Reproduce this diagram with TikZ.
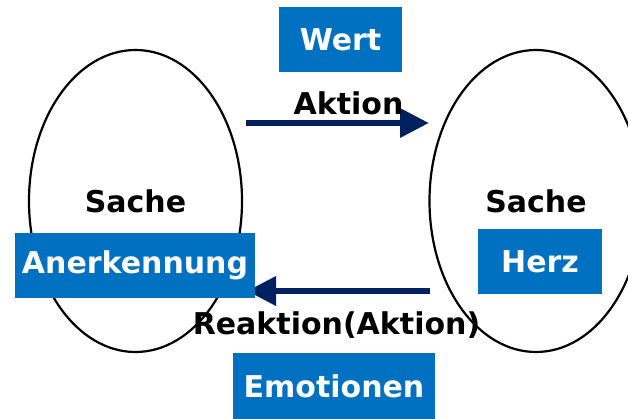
\documentclass[tikz,border=0pt]{standalone}
\usepackage{fontspec}
\setmainfont{DejaVu Sans}
\usetikzlibrary{shapes.geometric,arrows.meta}
\definecolor{kastenblau}{HTML}{0070C0}
\definecolor{pfeilblau}{HTML}{002060}

\begin{document}
\begin{tikzpicture}[x=1pt,y=-1pt,
        every node/.style={font=\fontsize{30}{36}\selectfont\bfseries},
        sache/.style={ellipse, draw, line width=2.2pt, minimum width=213pt, minimum height=302pt, inner sep=0pt},
        kasten/.style={fill=kastenblau, text=white, minimum height=65pt, inner sep=0pt},
        pfeil/.style={draw=pfeilblau, line width=6.5pt, -{Triangle[length=29pt,width=28pt]}}]
                \useasboundingbox (0,0) rectangle (628,419);
                \node[sache] (links) at (135.5,201) {Sache};
                \node[sache] (rechts) at (536,201) {Sache};

                \coordinate (a1) at (246,123);
                \coordinate (a2) at (429,123);
                \coordinate (r1) at (430,291);
                \coordinate (r2) at (247,291);
                \draw[pfeil] (a1) -- (a2);
                \draw[pfeil] (r1) -- (r2);

                \node[kasten, minimum width=123pt] (wert) at (340.5,39.5) {Wert};
                \node[kasten, minimum width=240pt] (anerk) at (135,265.5) {Anerkennung};
                \node[kasten, minimum width=124pt] (herz) at (540,261.5) {Herz};
                \node[kasten, minimum width=202pt, minimum height=66pt] (emo) at (334,386) {Emotionen};

                \node[anchor=base] (aktion) at (348.5,115) {Aktion};
                \node[anchor=base] (reaktion) at (336.5,334) {Reaktion(Aktion)};
            \end{tikzpicture}
\end{document}
